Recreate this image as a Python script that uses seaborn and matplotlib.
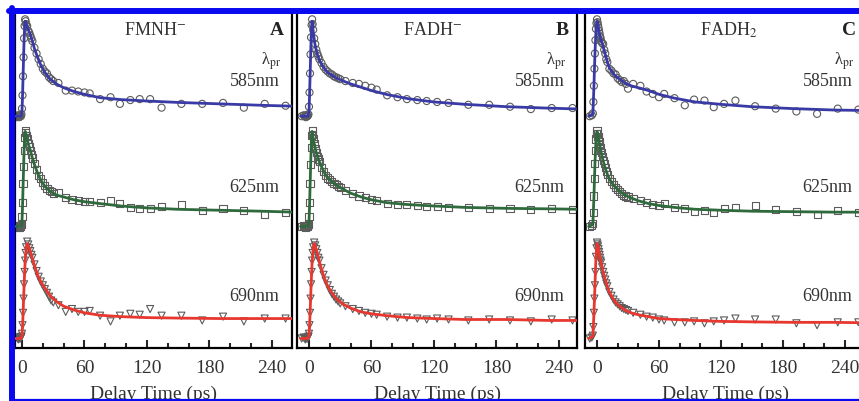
import numpy as np
import matplotlib
matplotlib.use("Agg")
import matplotlib.pyplot as plt
from matplotlib.lines import Line2D
from matplotlib.ticker import MultipleLocator
import seaborn as sns

# delay times (ps) of the measured points and of the fitted curves
t_mark = [-7, -5, -4, -3.5, -3, -2.5, -2, -1.5, -1, -0.5, 0, 0.5, 1, 1.5, 2, 2.5, 3, 3.5, 4,
          5, 6, 7, 8, 9, 10, 12, 14, 16, 18, 20, 22, 24, 26, 28, 30,
          35, 42, 48, 54, 60, 65, 75, 85, 94, 104, 113, 123, 134, 153, 173, 193, 213, 233, 253]
t_fit = [-8, -4, -3, -2, -1, 0, 0.5, 1, 1.5, 2, 2.5, 3, 4, 5, 6, 8, 10, 12, 15, 18, 22, 27,
         33, 40, 50, 60, 75, 95, 120, 150, 190, 230, 262]

wavelengths = ["585nm", "625nm", "690nm"]
offsets = [2.34, 1.18, 0.0]

# panel A  FMNH-
a585_mark = [0.01, -0.01, 0.0, 0.01, 0.0, -0.01, 0.0, 0.01, 0.0, 0.02,
             0.08, 0.22, 0.42, 0.62, 0.82, 0.95, 1.02, 1.0, 0.97,
             0.95, 0.9, 0.88, 0.85, 0.82, 0.79,
             0.72, 0.66, 0.6, 0.55, 0.5, 0.47, 0.45, 0.41, 0.39, 0.37,
             0.35, 0.27, 0.27, 0.26, 0.25, 0.24, 0.18, 0.20, 0.13, 0.17, 0.18, 0.18, 0.09, 0.13,
             0.13, 0.14, 0.09, 0.13, 0.11]
a585_fit = [0, 0, 0, 0, 0, 0.05, 0.2, 0.4, 0.6, 0.8, 0.93, 1.0, 0.97, 0.94, 0.91, 0.86, 0.79,
            0.71, 0.62, 0.54, 0.46, 0.39, 0.34, 0.30, 0.26, 0.23, 0.195, 0.175, 0.16, 0.145,
            0.13, 0.115, 0.105]
a625_mark = [0.0, 0.01, -0.01, 0.0, 0.01, 0.0, -0.01, 0.0, 0.01, 0.02,
             0.1, 0.25, 0.45, 0.63, 0.8, 0.94, 1.01, 0.99, 0.96,
             0.92, 0.87, 0.84, 0.8, 0.76, 0.72,
             0.66, 0.6, 0.54, 0.5, 0.46, 0.43, 0.4, 0.38, 0.37, 0.35,
             0.36, 0.30, 0.28, 0.27, 0.26, 0.26, 0.25, 0.27, 0.24, 0.20, 0.19, 0.19, 0.21, 0.23,
             0.17, 0.19, 0.17, 0.13, 0.15]
a625_fit = [0, 0, 0, 0, 0, 0.05, 0.2, 0.4, 0.6, 0.8, 0.93, 1.0, 0.96, 0.91, 0.87, 0.80, 0.72,
            0.65, 0.56, 0.49, 0.42, 0.37, 0.33, 0.31, 0.28, 0.26, 0.24, 0.215, 0.195, 0.18,
            0.17, 0.16, 0.15]
a690_mark = [0.0, 0.01, 0.0, -0.01, 0.0, 0.01, 0.0, 0.0, 0.01, 0.02,
             0.05, 0.14, 0.27, 0.42, 0.57, 0.7, 0.82, 0.9, 0.96,
             1.02, 0.99, 0.95, 0.92, 0.88, 0.85,
             0.78, 0.71, 0.65, 0.6, 0.56, 0.52, 0.48, 0.44, 0.4, 0.38,
             0.35, 0.28, 0.31, 0.28, 0.28, 0.29, 0.24, 0.18, 0.24, 0.26, 0.25, 0.31, 0.24, 0.24,
             0.19, 0.23, 0.18, 0.21, 0.21]
a690_fit = [0, 0, 0, 0, 0, 0.03, 0.12, 0.25, 0.4, 0.55, 0.68, 0.8, 0.95, 1.0, 0.98, 0.92, 0.84,
            0.77, 0.67, 0.6, 0.53, 0.45, 0.39, 0.34, 0.30, 0.27, 0.245, 0.23, 0.22, 0.215,
            0.21, 0.21, 0.21]

# panel B  FADH-
b585_mark = [0.0, 0.01, 0.0, 0.0, -0.01, 0.01, 0.0, 0.0, 0.01, 0.02,
             0.1, 0.25, 0.45, 0.65, 0.83, 0.96, 1.02, 0.97, 0.91,
             0.82, 0.76, 0.7, 0.66, 0.63, 0.6,
             0.56, 0.52, 0.49, 0.47, 0.45, 0.44, 0.42, 0.41, 0.40, 0.39,
             0.37, 0.35, 0.34, 0.32, 0.30, 0.28, 0.22, 0.20, 0.18, 0.17, 0.16, 0.15, 0.14, 0.12,
             0.12, 0.10, 0.075, 0.086, 0.086]
b585_fit = [0, 0, 0, 0, 0, 0.05, 0.2, 0.4, 0.6, 0.8, 0.95, 1.0, 0.9, 0.81, 0.74, 0.65, 0.59,
            0.55, 0.5, 0.46, 0.43, 0.4, 0.37, 0.34, 0.305, 0.27, 0.228, 0.185, 0.15, 0.125,
            0.10, 0.085, 0.075]
b625_mark = [0.0, 0.01, 0.0, -0.01, 0.0, 0.01, 0.0, 0.0, 0.01, 0.02,
             0.1, 0.25, 0.45, 0.65, 0.83, 0.96, 1.01, 0.97, 0.93,
             0.87, 0.82, 0.78, 0.74, 0.71, 0.68,
             0.62, 0.58, 0.54, 0.51, 0.49, 0.47, 0.45, 0.44, 0.42, 0.41,
             0.38, 0.35, 0.32, 0.30, 0.28, 0.27, 0.24, 0.23, 0.23, 0.22, 0.21, 0.21, 0.2, 0.2,
             0.19, 0.19, 0.18, 0.19, 0.18]
b625_fit = [0, 0, 0, 0, 0, 0.05, 0.2, 0.4, 0.6, 0.8, 0.95, 1.0, 0.93, 0.87, 0.82, 0.74, 0.68,
            0.63, 0.56, 0.51, 0.47, 0.43, 0.39, 0.35, 0.31, 0.28, 0.25, 0.23, 0.215, 0.2,
            0.19, 0.185, 0.18]
b690_mark = [0.0, 0.01, 0.0, -0.01, 0.0, 0.01, 0.0, 0.0, 0.01, 0.02,
             0.05, 0.14, 0.27, 0.42, 0.57, 0.7, 0.82, 0.9, 0.96,
             1.01, 0.98, 0.94, 0.9, 0.85, 0.82,
             0.74, 0.67, 0.61, 0.56, 0.51, 0.47, 0.44, 0.41, 0.39, 0.37,
             0.34, 0.31, 0.29, 0.27, 0.26, 0.25, 0.23, 0.22, 0.22, 0.21, 0.2, 0.21, 0.2, 0.19,
             0.2, 0.19, 0.18, 0.2, 0.19]
b690_fit = [0, 0, 0, 0, 0, 0.03, 0.12, 0.25, 0.4, 0.55, 0.68, 0.8, 0.95, 1.0, 0.97, 0.9, 0.81,
            0.73, 0.63, 0.55, 0.48, 0.41, 0.36, 0.32, 0.28, 0.26, 0.24, 0.22, 0.21, 0.2,
            0.2, 0.19, 0.19]

# panel C  FADH2
c585_mark = [0.0, 0.01, 0.03, 0.15, 0.32, 0.5, 0.66, 0.8, 0.92, 0.98,
             1.02, 0.99, 0.96, 0.93, 0.9, 0.87, 0.84, 0.82, 0.79,
             0.77, 0.76, 0.7, 0.66, 0.6, 0.57,
             0.5, 0.48, 0.45, 0.44, 0.4, 0.38, 0.36, 0.37, 0.34, 0.29,
             0.34, 0.32, 0.26, 0.235, 0.20, 0.235, 0.19, 0.115, 0.175, 0.165, 0.095, 0.13,
             0.165, 0.105, 0.08, 0.05, 0.025, 0.08, 0.07]
c585_fit = [0, 0.02, 0.3, 0.65, 0.9, 1.0, 0.98, 0.95, 0.92, 0.89, 0.86, 0.83, 0.8, 0.77, 0.73,
            0.65, 0.57, 0.51, 0.46, 0.42, 0.39, 0.35, 0.32, 0.30, 0.27, 0.23, 0.19, 0.15,
            0.125, 0.10, 0.08, 0.065, 0.06]
c625_mark = [0.0, 0.01, 0.03, 0.15, 0.32, 0.5, 0.66, 0.8, 0.92, 0.98,
             1.01, 0.98, 0.95, 0.92, 0.89, 0.86, 0.83, 0.8, 0.78,
             0.74, 0.69, 0.66, 0.62, 0.58, 0.55,
             0.5, 0.47, 0.44, 0.41, 0.39, 0.37, 0.35, 0.33, 0.32, 0.31,
             0.29, 0.27, 0.25, 0.23, 0.22, 0.24, 0.2, 0.19, 0.16, 0.17, 0.15, 0.19, 0.2, 0.22,
             0.18, 0.16, 0.13, 0.17, 0.15]
c625_fit = [0, 0.02, 0.3, 0.65, 0.9, 1.0, 0.98, 0.95, 0.92, 0.89, 0.86, 0.83, 0.78, 0.73, 0.69,
            0.61, 0.55, 0.5, 0.45, 0.41, 0.37, 0.33, 0.3, 0.27, 0.24, 0.22, 0.2, 0.18, 0.17,
            0.16, 0.155, 0.15, 0.15]
c690_mark = [0.0, 0.01, 0.03, 0.12, 0.27, 0.42, 0.56, 0.7, 0.86, 0.95,
             1.01, 0.99, 0.97, 0.94, 0.91, 0.88, 0.85, 0.82, 0.8,
             0.75, 0.7, 0.66, 0.62, 0.58, 0.55,
             0.49, 0.45, 0.41, 0.38, 0.36, 0.34, 0.32, 0.31, 0.3, 0.29,
             0.27, 0.25, 0.23, 0.22, 0.2, 0.19, 0.17, 0.17, 0.18, 0.16, 0.18, 0.19, 0.21, 0.2,
             0.2, 0.16, 0.14, 0.17, 0.17]
c690_fit = [0, 0.02, 0.25, 0.55, 0.85, 1.0, 0.99, 0.97, 0.94, 0.91, 0.88, 0.85, 0.8, 0.75, 0.7,
            0.62, 0.55, 0.49, 0.43, 0.38, 0.34, 0.3, 0.27, 0.25, 0.23, 0.21, 0.2, 0.19, 0.18,
            0.175, 0.17, 0.17, 0.165]

line_colors = ["#3a3aa6", "#2f6a3c", "#e8372f"]
markers = ["o", "s", "v"]

panels = [
    dict(left=15, width=277, xlim=(-6.7, 259.2), title="FMNH$^{-}$", letter="A", tx=0.505,
         marks=[a585_mark, a625_mark, a690_mark], fits=[a585_fit, a625_fit, a690_fit]),
    dict(left=297, width=280, xlim=(-11.5, 257.3), title="FADH$^{-}$", letter="B", tx=0.486,
         marks=[b585_mark, b625_mark, b690_mark], fits=[b585_fit, b625_fit, b690_fit]),
    dict(left=585, width=280, xlim=(-11.6, 259.4), title="FADH$_{2}$", letter="C", tx=0.514,
         marks=[c585_mark, c625_mark, c690_mark], fits=[c585_fit, c625_fit, c690_fit]),
]

sns.set_style("ticks")
plt.rcParams["font.family"] = ["Liberation Serif", "DejaVu Serif"]
plt.rcParams["mathtext.fontset"] = "stix"

W, H = 859, 402
fig = plt.figure(figsize=(W / 100, H / 100), dpi=100)

for p in panels:
    ax = fig.add_axes([p["left"] / W, 53 / H, p["width"] / W, 334 / H])
    for i in range(3):
        sns.scatterplot(x=t_mark, y=np.add(p["marks"][i], offsets[i]), marker=markers[i],
                        s=26, facecolor="none", edgecolor="#5c5c5c", linewidth=0.8,
                        ax=ax, zorder=2)
        sns.lineplot(x=t_fit, y=np.add(p["fits"][i], offsets[i]), color=line_colors[i],
                     lw=2.0, ax=ax, zorder=3)
    ax.set_xlim(*p["xlim"])
    ax.set_ylim(-0.1, 3.416)
    ax.set_yticks([])
    ax.set_ylabel("")
    ax.xaxis.set_major_locator(MultipleLocator(60))
    ax.xaxis.set_minor_locator(MultipleLocator(20))
    ax.tick_params(axis="x", which="major", direction="in", length=6, width=1.5,
                   labelsize=14, labelcolor="#333333", pad=8)
    ax.tick_params(axis="x", which="minor", direction="in", length=3.5, width=1.5)
    for s in ["left", "right", "bottom"]:
        ax.spines[s].set_linewidth(1.6)
        ax.spines[s].set_color("black")
    ax.spines["top"].set_visible(False)
    ax.set_xlabel("Delay Time (ps)", fontsize=14, color="#333333", labelpad=6.5)

    ax.text(p["tx"], 0.955, p["title"], transform=ax.transAxes, ha="center", va="center",
            fontsize=13, color="#333333")
    ax.text(0.97, 0.955, p["letter"], transform=ax.transAxes, ha="right", va="center",
            fontsize=14, fontweight="bold", color="#222222")
    ax.text(0.925, 0.862, "λ$_{\\rm pr}$", transform=ax.transAxes, ha="center",
            va="center", fontsize=12, color="#333333")
    for lab, yy in zip(wavelengths, [0.80, 0.485, 0.156]):
        ax.text(0.955, yy, lab, transform=ax.transAxes, ha="right", va="center",
                fontsize=13, color="#333333")

# blue frame around the figure
blue = "#0a0af0"
fig.add_artist(Line2D([9 / W, 1], [1 - 12 / H, 1 - 12 / H], color=blue, lw=4.3,
                      transform=fig.transFigure))
fig.add_artist(Line2D([11.5 / W, 11.5 / W], [0, 1 - 9 / H], color=blue, lw=4.3,
                      transform=fig.transFigure))
fig.add_artist(Line2D([11.5 / W, 1], [1.2 / H, 1.2 / H], color=blue, lw=1.6,
                      transform=fig.transFigure))

fig.savefig("out.png", dpi=100)
